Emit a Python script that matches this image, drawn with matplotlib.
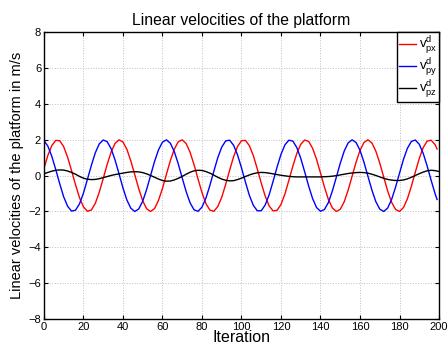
import matplotlib
matplotlib.use("Agg")
import matplotlib.pyplot as plt

# iterations for the px / py references (sampled every 2 steps, last at 199)
iter_xy = list(range(0, 199, 2)) + [199]

v_px = [0.40, 1.13, 1.68, 1.97, 1.95, 1.62, 1.03, 0.28, -0.51, -1.22,
        -1.74, -1.99, -1.92, -1.55, -0.93, -0.17, 0.62, 1.31, 1.80, 2.00,
        1.88, 1.47, 0.82, 0.05, -0.73, -1.40, -1.85, -2.00, -1.84, -1.38,
        -0.72, 0.07, 0.84, 1.48, 1.89, 2.00, 1.79, 1.30, 0.61, -0.18,
        -0.94, -1.56, -1.92, -1.99, -1.73, -1.21, -0.49, 0.30, 1.05, 1.63,
        1.95, 1.97, 1.67, 1.12, 0.38, -0.41, -1.14, -1.69, -1.97, -1.94,
        -1.61, -1.02, -0.26, 0.53, 1.24, 1.75, 1.99, 1.91, 1.53, 0.91,
        0.15, -0.64, -1.33, -1.80, -2.00, -1.88, -1.46, -0.81, -0.03, 0.75,
        1.41, 1.85, 2.00, 1.83, 1.37, 0.70, -0.08, -0.86, -1.49, -1.89,
        -2.00, -1.78, -1.29, -0.59, 0.20, 0.96, 1.57, 1.93, 1.98, 1.73,
        1.49]

v_py = [1.96, 1.65, 1.08, 0.34, -0.45, -1.18, -1.71, -1.98, -1.93, -1.58,
        -0.98, -0.22, 0.57, 1.27, 1.77, 1.99, 1.90, 1.51, 0.88, 0.11,
        -0.68, -1.36, -1.82, -2.00, -1.86, -1.43, -0.77, 0.01, 0.79, 1.44,
        1.87, 2.00, 1.81, 1.34, 0.66, -0.13, -0.89, -1.52, -1.91, -1.99,
        -1.76, -1.26, -0.55, 0.24, 1.00, 1.59, 1.94, 1.98, 1.70, 1.16,
        0.44, -0.36, -1.10, -1.66, -1.96, -1.96, -1.64, -1.07, -0.32, 0.47,
        1.19, 1.72, 1.98, 1.93, 1.57, 0.97, 0.21, -0.58, -1.28, -1.78,
        -1.99, -1.89, -1.50, -0.86, -0.09, 0.69, 1.37, 1.83, 2.00, 1.85,
        1.42, 0.75, -0.03, -0.80, -1.45, -1.87, -2.00, -1.81, -1.33, -0.64,
        0.14, 0.91, 1.53, 1.91, 1.99, 1.75, 1.24, 0.53, -0.26, -1.01,
        -1.33]

# z reference, read every 2 iterations
iter_z = list(range(0, 201, 2))
v_pz = [0.10, 0.18, 0.25, 0.30, 0.32, 0.31, 0.26, 0.18, 0.08, -0.04,
        -0.14, -0.20, -0.22, -0.21, -0.17, -0.11, -0.05, 0.01, 0.06, 0.10,
        0.14, 0.18, 0.21, 0.22, 0.21, 0.17, 0.10, 0.01, -0.09, -0.19,
        -0.27, -0.31, -0.30, -0.24, -0.15, -0.04, 0.08, 0.19, 0.27, 0.30,
        0.29, 0.23, 0.14, 0.03, -0.09, -0.19, -0.26, -0.29, -0.28, -0.22,
        -0.14, -0.05, 0.04, 0.11, 0.16, 0.18, 0.17, 0.14, 0.10, 0.06,
        0.02, -0.01, -0.04, -0.06, -0.07, -0.07, -0.07, -0.07, -0.07, -0.07,
        -0.07, -0.06, -0.05, -0.03, 0.00, 0.04, 0.08, 0.12, 0.15, 0.17,
        0.18, 0.17, 0.14, 0.08, 0.01, -0.07, -0.15, -0.21, -0.25, -0.27,
        -0.27, -0.24, -0.18, -0.09, 0.01, 0.11, 0.20, 0.27, 0.30, 0.28,
        0.23]

x_ticks = list(range(0, 201, 20))
y_ticks = list(range(-8, 9, 2))
labels = [r"$\mathrm{v}^{\mathrm{d}}_{\mathrm{px}}$",
          r"$\mathrm{v}^{\mathrm{d}}_{\mathrm{py}}$",
          r"$\mathrm{v}^{\mathrm{d}}_{\mathrm{pz}}$"]

plt.rcParams["font.family"] = ["Liberation Sans", "DejaVu Sans"]
plt.rcParams["mathtext.fontset"] = "custom"
plt.rcParams["mathtext.rm"] = "Liberation Sans"

fig = plt.figure(figsize=(4.48, 3.52), dpi=100)
ax = fig.add_axes([0.098, 0.094, 0.882, 0.814])

ax.plot(iter_xy, v_px, color="red", linewidth=1.0, label=labels[0])
ax.plot(iter_xy, v_py, color="blue", linewidth=1.0, label=labels[1])
ax.plot(iter_z, v_pz, color="black", linewidth=1.0, label=labels[2])

ax.set_xlim(0, 200)
ax.set_ylim(-8, 8)
ax.set_xticks(x_ticks)
ax.set_yticks(y_ticks)
ax.tick_params(direction="in", length=3, width=0.8, labelsize=8,
               top=True, right=True, pad=2)
ax.grid(True, linestyle=":", color="0.75", linewidth=0.7)
for s in ax.spines.values():
    s.set_linewidth(1.0)

ax.set_title("Linear velocities of the platform", fontsize=11.3, pad=5)
ax.set_xlabel("Iteration", fontsize=11.5, labelpad=-1)
ax.set_ylabel("Linear velocities of the platform in m/s", fontsize=10.5, labelpad=3)

leg = ax.legend(loc="upper right", fontsize=9.5, handlelength=1.3,
                handletextpad=0.2, labelspacing=0.0, borderpad=0.15,
                borderaxespad=0.0, fancybox=False, framealpha=1.0)
leg.get_frame().set_edgecolor("black")
leg.get_frame().set_linewidth(1.0)

fig.savefig("out.png", dpi=100)
